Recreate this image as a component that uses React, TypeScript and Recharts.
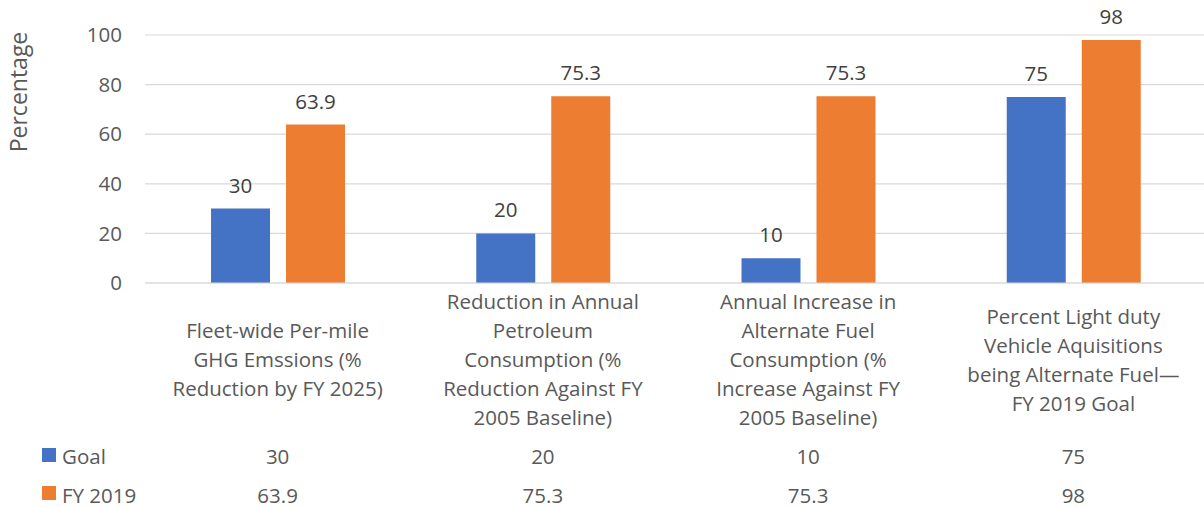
import React from "react";
import { BarChart, Bar, XAxis, YAxis, CartesianGrid, LabelList } from "recharts";

const categories = [
  "Fleet-wide Per-mile\nGHG Emssions (%\nReduction by FY 2025)",
  "Reduction in Annual\nPetroleum\nConsumption (%\nReduction Against FY\n2005 Baseline)",
  "Annual Increase in\nAlternate Fuel\nConsumption (%\nIncrease Against FY\n2005 Baseline)",
  "Percent Light duty\nVehicle Aquisitions\nbeing Alternate Fuel\u2014\nFY 2019 Goal",
];
const goal = [30, 20, 10, 75];
const fy2019 = [63.9, 75.3, 75.3, 98];
const yTicks = [0, 20, 40, 60, 80, 100];
const seriesNames = ["Goal", "FY 2019"];

const BLUE = "#4472C4";
const ORANGE = "#ED7D31";
const FONT = "'Open Sans', sans-serif";
const GRAY = "#595959";
const FS = 20.5;

const data = categories.map((c, i) => ({ name: c, goal: goal[i], fy2019: fy2019[i] }));

const CategoryTick = (props: any) => {
  const { x, payload, index } = props;
  const lines: string[] = String(payload.value).split("\n");
  const lh = 29;
  const centerBaseline = 367;
  const start = centerBaseline - ((lines.length - 1) * lh) / 2;
  return (
    <g>
      <text textAnchor="middle" fill={GRAY} fontSize={FS} fontFamily={FONT}>
        {lines.map((l, i) => (
          <tspan key={i} x={x} y={start + i * lh}>
            {l}
          </tspan>
        ))}
      </text>
      <text x={x} y={464} textAnchor="middle" fill={GRAY} fontSize={FS} fontFamily={FONT}>
        {goal[index]}
      </text>
      <text x={x} y={503} textAnchor="middle" fill={GRAY} fontSize={FS} fontFamily={FONT}>
        {fy2019[index]}
      </text>
    </g>
  );
};

export default function App() {
  return (
    <div style={{ position: "absolute", left: 0, top: 0, width: 1204, height: 508, background: "#fff", overflow: "hidden" }}>
      <BarChart
        width={1204}
        height={508}
        data={data}
        margin={{ top: 35, right: -2, bottom: 0, left: 0 }}
        barSize={59}
        barGap={16}
      >
        <CartesianGrid horizontal vertical={false} stroke="#d9d9d9" strokeWidth={1.2} />
        <XAxis
          dataKey="name"
          height={225}
          axisLine={{ stroke: "#d9d9d9", strokeWidth: 1.2 }}
          tickLine={false}
          interval={0}
          tick={<CategoryTick />}
        />
        <YAxis
          width={145}
          domain={[0, 100]}
          ticks={yTicks}
          axisLine={false}
          tickLine={false}
          tickSize={0}
          tickMargin={23}
          tick={{ fill: GRAY, fontSize: FS, fontFamily: FONT }}
        />
        <Bar dataKey="goal" name={seriesNames[0]} fill={BLUE} isAnimationActive={false}>
          <LabelList dataKey="goal" position="top" offset={16} fill="#404040" fontSize={FS} fontFamily={FONT} />
        </Bar>
        <Bar dataKey="fy2019" name={seriesNames[1]} fill={ORANGE} isAnimationActive={false}>
          <LabelList dataKey="fy2019" position="top" offset={16} fill="#404040" fontSize={FS} fontFamily={FONT} />
        </Bar>
        <text
          x={27}
          y={92}
          transform="rotate(-90 27 92)"
          textAnchor="middle"
          fill={GRAY}
          fontSize={23}
          fontFamily={FONT}
        >
          Percentage
        </text>
      </BarChart>
      <div style={{ position: "absolute", left: 42, top: 448, width: 14, height: 14, background: BLUE }} />
      <div style={{ position: "absolute", left: 42, top: 486, width: 14, height: 14, background: ORANGE }} />
      <svg style={{ position: "absolute", left: 0, top: 0 }} width={200} height={508}>
        <text x={62} y={464} fill={GRAY} fontSize={FS} fontFamily={FONT}>
          {seriesNames[0]}
        </text>
        <text x={62} y={503} fill={GRAY} fontSize={FS} fontFamily={FONT}>
          {seriesNames[1]}
        </text>
      </svg>
    </div>
  );
}
